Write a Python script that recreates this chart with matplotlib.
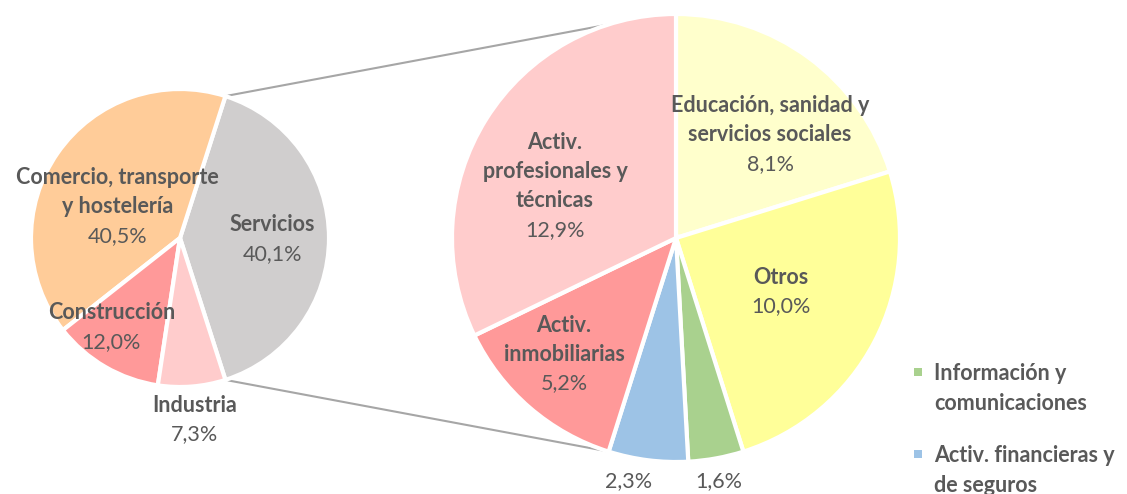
import matplotlib
matplotlib.use("Agg")
import matplotlib.pyplot as plt
import numpy as np

# ---- data ----
main_labels = ["Servicios", "Comercio, transporte\ny hostelería", "Construcción", "Industria"]
main_values = [40.1, 40.5, 12.0, 7.3]
main_colors = ["#D0CECE", "#FFCC99", "#FF9999", "#FFCCCC"]

sub_labels = ["Educación, sanidad y\nservicios sociales", "Otros", "Información y\ncomunicaciones",
              "Activ. financieras y\nde seguros", "Activ.\ninmobiliarias", "Activ.\nprofesionales y\ntécnicas"]
sub_values = [8.1, 10.0, 1.6, 2.3, 5.2, 12.9]
sub_colors = ["#FFFFCC", "#FFFF99", "#A9D18E", "#9DC3E6", "#FF9999", "#FFCCCC"]
sub_show_name = [True, True, False, False, True, True]

def fmt(v):
    return f"{v:.1f}".replace(".", ",") + "%"

W, H = 1127, 494
fig = plt.figure(figsize=(W / 100, H / 100), dpi=100)
ax = fig.add_axes([0, 0, 1, 1])

TXT = "#595959"
FONT = "Lato"
FS = 15.5
LS = 29  # line spacing in px

c1, r1 = (180, 256), 149
c2, r2 = (676, 256), 224

half = main_values[0] / sum(main_values) * 360 / 2
w1, _ = ax.pie(main_values, colors=main_colors, center=c1, radius=r1,
               startangle=-half, counterclock=True,
               wedgeprops=dict(edgecolor="white", linewidth=3))
w2, _ = ax.pie(sub_values, colors=sub_colors, center=c2, radius=r2,
               startangle=90, counterclock=False,
               wedgeprops=dict(edgecolor="white", linewidth=3))

# connector lines
serv = w1[0]
for ang in (serv.theta2, serv.theta1):
    a1 = np.deg2rad(ang)
    a2 = np.deg2rad(180 - ang)
    ax.plot([c1[0] + r1 * np.cos(a1), c2[0] + r2 * np.cos(a2)],
            [c1[1] + r1 * np.sin(a1), c2[1] + r2 * np.sin(a2)],
            color="#A6A6A6", lw=1.5, zorder=0)

def label(cx, cy, name, value):
    lines = name.split("\n") if name else []
    n = len(lines) + 1
    top = cy + (n - 1) / 2 * LS
    for i, ln in enumerate(lines):
        ax.text(cx, top - i * LS, ln, ha="center", va="center", color=TXT,
                fontsize=FS, fontweight="bold", family=FONT)
    ax.text(cx, top - len(lines) * LS, fmt(value), ha="center", va="center",
            color=TXT, fontsize=FS, family=FONT)

main_pos = [(0.62, -0.01), (-0.42, 0.21), (-0.46, -0.60), (0.10, -1.22)]
for lab, v, (fx, fy) in zip(main_labels, main_values, main_pos):
    label(c1[0] + fx * r1, c1[1] + fy * r1, lab, v)

sub_pos = [(0.42, 0.46), (0.47, -0.24), (0.19, -1.085), (-0.21, -1.085), (-0.50, -0.52), (-0.54, 0.23)]
for lab, v, show, (fx, fy) in zip(sub_labels, sub_values, sub_show_name, sub_pos):
    label(c2[0] + fx * r2, c2[1] + fy * r2, lab if show else None, v)

# legend (manual)
leg_items = [2, 3]
leg_y = [120, 38]
for idx, y in zip(leg_items, leg_y):
    ax.scatter([918], [y + 2], marker="s", s=40, color=sub_colors[idx], linewidths=0)
    for k, ln in enumerate(sub_labels[idx].split("\n")):
        ax.text(934, y - k * LS, ln, ha="left", va="center", color=TXT,
                fontsize=FS, fontweight="bold", family=FONT)

ax.set_xlim(0, W)
ax.set_ylim(0, H)
ax.set_aspect("equal")
ax.axis("off")
fig.savefig("out.png", dpi=100)
